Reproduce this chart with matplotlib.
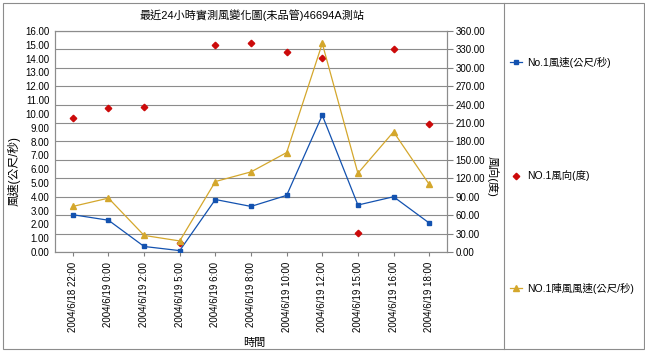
import numpy as np
import matplotlib
matplotlib.use("Agg")
import matplotlib.pyplot as plt
from matplotlib.patches import Rectangle
from matplotlib.lines import Line2D

plt.rcParams['font.family'] = ['Liberation Sans', 'Noto Sans CJK TC', 'DejaVu Sans']

times = ["2004/6/18 22:00", "2004/6/19 0:00", "2004/6/19 2:00", "2004/6/19 5:00",
         "2004/6/19 6:00", "2004/6/19 8:00", "2004/6/19 10:00", "2004/6/19 12:00",
         "2004/6/19 15:00", "2004/6/19 16:00", "2004/6/19 18:00"]
speed = [2.7, 2.3, 0.4, 0.1, 3.8, 3.3, 4.1, 9.9, 3.4, 4.0, 2.1]
gust = [3.3, 3.9, 1.2, 0.8, 5.1, 5.8, 7.2, 15.1, 5.7, 8.7, 4.9]
direction = [219, 234, 237, 14, 337, 341, 326, 316, 31, 331, 209]

blue = '#1352b0'
red = '#cc0a0a'
gold = '#d4a72c'

fig = plt.figure(figsize=(6.45, 3.53), dpi=100)
ax = fig.add_axes([55/645, 1-252/353, 392/645, 221/353])
ax2 = ax.twinx()
# keep the speed lines above the direction dots
ax.set_zorder(ax2.get_zorder() + 1)
ax.patch.set_visible(False)

x = np.arange(len(times))
ax.plot(x, speed, color=blue, lw=0.9, marker='s', ms=3.5, zorder=3)
ax.plot(x, gust, color=gold, lw=0.9, marker='^', ms=5, zorder=3)
ax2.plot(x, direction, ls='none', color=red, marker='D', ms=3.3, zorder=3)

ax.set_xlim(-0.5, len(times)-0.5)
ax.set_ylim(0, 16)
ax2.set_ylim(0, 360)
ax.set_yticks(np.arange(0, 17, 1))
ax.set_yticklabels(["%.2f" % v for v in np.arange(0, 17, 1)], fontsize=7)
ax2.set_yticks(np.arange(0, 361, 30))
ax2.set_yticklabels(["%.2f" % v for v in np.arange(0, 361, 30)], fontsize=7)
ax.set_xticks(x)
ax.set_xticklabels(times, rotation=90, fontsize=7)
ax2.grid(axis='y', color='#8c8c8c', lw=0.8, zorder=0)
ax2.set_axisbelow(True)
ax.tick_params(axis='y', length=0, pad=4)
ax.tick_params(axis='x', length=3, color='#808080', pad=4)
ax2.tick_params(axis='y', length=4, color='#808080', pad=2)
for a in (ax, ax2):
    for s in a.spines.values():
        s.set_color('#8c8c8c')
        s.set_linewidth(0.8)

ax.set_ylabel("風速(公尺/秒)", fontsize=8.5)
ax.yaxis.set_label_coords(-0.088, 0.366)
ax2.set_ylabel("風向(度)", fontsize=8, rotation=-90, va='center')
ax2.yaxis.set_label_coords(1.115, 0.344)
ax.set_xlabel("時間", fontsize=8)
ax.xaxis.set_label_coords((254-55)/392, -(338-252)/221)
fig.text(252/645, 1-15/353, "最近24小時實測風變化圖(未品管)46694A測站", fontsize=8,
         ha='center', va='center')

# outer frame and legend panel
fig.patches.append(Rectangle((3/645, 1-349/353), 641/645, 346/353, transform=fig.transFigure,
                             fill=False, ec='#8c8c8c', lw=0.8))
fig.lines.append(Line2D([504/645, 504/645], [1-349/353, 1-3/353], transform=fig.transFigure,
                        color='#8c8c8c', lw=0.8))

legend_items = [("No.1風速(公尺/秒)", blue, 's', 3.5, '-', 62),
                ("NO.1風向(度)", red, 'D', 3.3, 'none', 176),
                ("NO.1陣風風速(公尺/秒)", gold, '^', 5, '-', 288)]
for label, c, m, ms, ls, yp in legend_items:
    yf = 1 - yp/353
    fig.lines.append(Line2D([510/645, 522/645], [yf, yf], transform=fig.transFigure,
                            color=c, lw=0.9, ls=ls))
    fig.lines.append(Line2D([516/645], [yf], transform=fig.transFigure,
                            color=c, marker=m, ms=ms, ls='none'))
    fig.text(527/645, yf, label, fontsize=7.5, va='center', ha='left')

fig.savefig("out.png", dpi=100)
